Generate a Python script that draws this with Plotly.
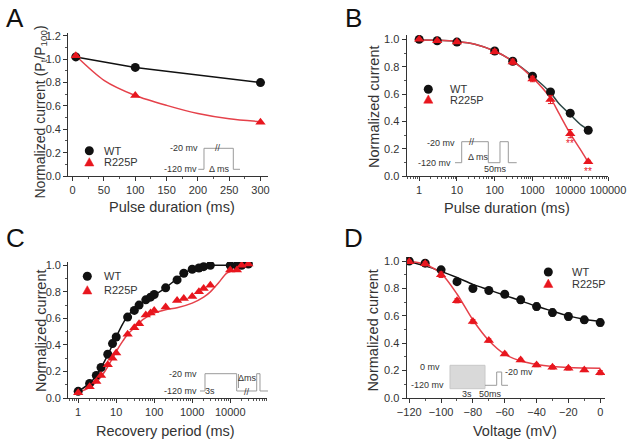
import math
import plotly.graph_objects as go

W, H = 629, 444

# ---------------- Data ----------------
# Panel A
a_x = [5, 100, 300]
a_wt = [1.02, 0.93, 0.80]
a_mut = [1.03, 0.69, 0.46]
a_fit_x = [5, 50, 100, 150, 200, 250, 300]
a_fit_mut = [1.03, 0.82, 0.69, 0.605, 0.535, 0.49, 0.465]

# Panel B
b_x = [1, 3, 10, 100, 300, 1000, 3000, 10000, 30000]
b_wt = [1.0, 0.99, 0.98, 0.915, 0.84, 0.73, 0.615, 0.46, 0.335]
b_wt_err = [0.005, 0.008, 0.01, 0.01, 0.012, 0.015, 0.015, 0.015, 0.012]
b_mut = [1.0, 0.99, 0.98, 0.91, 0.835, 0.71, 0.56, 0.31, 0.105]
b_mut_err = [0.005, 0.008, 0.01, 0.015, 0.02, 0.02, 0.03, 0.03, 0.01]
b_fit_x = [1, 3, 10, 30, 100, 300, 1000, 3000, 5000, 10000, 20000, 30000]
b_fit_wt = [0.995, 0.993, 0.985, 0.965, 0.915, 0.84, 0.73, 0.61, 0.53, 0.45, 0.37, 0.34]
b_fit_mut = [0.995, 0.993, 0.985, 0.965, 0.915, 0.84, 0.72, 0.57, 0.46, 0.31, 0.18, 0.10]

# Panel C
c_x = [1, 2, 3, 4, 6, 8, 10, 20, 30, 40, 60, 80, 100, 200, 400, 600, 1000, 1500,
       2000, 3000, 10000, 15000, 20000, 30000]
c_wt = [0.05, 0.11, 0.17, 0.23, 0.33, 0.41, 0.46, 0.61, 0.66, 0.70, 0.74, 0.76, 0.78,
        0.83, 0.89, 0.94, 0.97, 0.98, 0.99, 1.0, 1.0, 1.0, 1.0, 1.01]
c_mut = [0.04, 0.085, 0.125, 0.17, 0.25, 0.30, 0.34, 0.48, 0.53, 0.56, 0.625, 0.64, 0.66,
         0.685, 0.735, 0.75, 0.765, 0.80, 0.825, 0.85, 0.965, 0.965, 1.0, 1.01]
c_fit_wt_x = [1, 2, 3, 5, 8, 10, 15, 20, 30, 50, 100, 200, 400, 700, 1000, 2000, 3000, 10000, 30000]
c_fit_wt = [0.05, 0.11, 0.17, 0.28, 0.40, 0.46, 0.56, 0.62, 0.67, 0.72, 0.775, 0.83, 0.90,
            0.95, 0.97, 0.99, 1.0, 1.0, 1.0]
c_fit_mut_x = [1, 2, 3, 5, 8, 10, 15, 20, 30, 50, 100, 200, 400, 1000, 2000, 3000, 5000,
               8000, 15000, 30000]
c_fit_mut = [0.04, 0.08, 0.12, 0.20, 0.30, 0.35, 0.43, 0.48, 0.53, 0.59, 0.64, 0.665, 0.68,
             0.715, 0.76, 0.80, 0.87, 0.94, 0.97, 1.0]

# Panel D
d_x = [-120, -110, -100, -90, -80, -70, -60, -50, -40, -30, -20, -10, 0]
d_wt = [1.0, 0.985, 0.936, 0.85, 0.80, 0.785, 0.758, 0.717, 0.668, 0.624, 0.595, 0.571, 0.551]
d_wt_err = [0.01, 0.015, 0.02, 0.02, 0.02, 0.02, 0.02, 0.025, 0.025, 0.025, 0.025, 0.025, 0.025]
d_mut = [0.995, 0.98, 0.90, 0.71, 0.558, 0.42, 0.322, 0.278, 0.241, 0.224, 0.217, 0.205, 0.185]
d_mut_err = [0.01, 0.015, 0.02, 0.015, 0.015, 0.012, 0.012, 0.012, 0.012, 0.012, 0.012, 0.012, 0.015]
d_fit_x = [-120, -110, -100, -90, -80, -70, -60, -50, -40, -30, -20, -10, 0]
d_fit_wt = [0.995, 0.965, 0.925, 0.88, 0.83, 0.79, 0.75, 0.71, 0.67, 0.635, 0.60, 0.575, 0.558]
d_fit_mut = [1.0, 0.975, 0.91, 0.76, 0.57, 0.42, 0.32, 0.27, 0.245, 0.23, 0.222, 0.219, 0.217]

legend_names = ["WT", "R225P"]
log_tickvals = [1, 10, 100, 1000, 10000, 100000]
log_ticktext = ["1", "10", "100", "1000", "10000", "100000"]

# ---------------- Styles ----------------
BLACK = "#111111"
RED = "#e8161e"
RED_LINE = "#e5414a"
FONT = "Liberation Sans, Arial, sans-serif"


def PX(x):
    return x / W


def PY(y):
    return 1 - y / H


fig = go.Figure()


def add_panel(n, x, wt, mut, wt_err=None, mut_err=None, fits=()):
    xa = "x" if n == 1 else f"x{n}"
    ya = "y" if n == 1 else f"y{n}"
    for fx, fy, col in fits:
        fig.add_trace(go.Scatter(x=fx, y=fy, mode="lines", xaxis=xa, yaxis=ya,
                                 line=dict(color=col, width=1.5, shape="spline", smoothing=0.8),
                                 showlegend=False, hoverinfo="skip"))
    fig.add_trace(go.Scatter(
        x=x, y=wt, mode="markers", xaxis=xa, yaxis=ya, name=legend_names[0], showlegend=False,
        marker=dict(symbol="circle", size=9, color=BLACK),
        error_y=dict(type="data", array=wt_err, color=BLACK, thickness=1, width=2.5,
                     visible=wt_err is not None)))
    fig.add_trace(go.Scatter(
        x=x, y=mut, mode="markers", xaxis=xa, yaxis=ya, name=legend_names[1], showlegend=False,
        marker=dict(symbol="triangle-up", size=9, color=RED),
        error_y=dict(type="data", array=mut_err, color=RED, thickness=1, width=2.5,
                     visible=mut_err is not None)))


# Panel A: WT connected by straight line, R225P fitted curve
fig.add_trace(go.Scatter(x=a_x, y=a_wt, mode="lines", xaxis="x", yaxis="y",
                         line=dict(color=BLACK, width=1.5), showlegend=False, hoverinfo="skip"))
add_panel(1, a_x, a_wt, a_mut, fits=[(a_fit_x, a_fit_mut, RED_LINE)])
add_panel(2, b_x, b_wt, b_mut, b_wt_err, b_mut_err,
          fits=[(b_fit_x, b_fit_wt, "#2d4746"), (b_fit_x, b_fit_mut, RED_LINE)])
fig.add_trace(go.Scatter(x=c_fit_wt_x, y=c_fit_wt, mode="lines", xaxis="x3", yaxis="y3",
                         line=dict(color=BLACK, width=1.5, shape="spline", smoothing=0.8),
                         showlegend=False, hoverinfo="skip"))
add_panel(3, c_x, c_wt, c_mut, fits=[(c_fit_mut_x, c_fit_mut, RED_LINE)])
add_panel(4, d_x, d_wt, d_mut, d_wt_err, d_mut_err,
          fits=[(d_fit_x, d_fit_wt, BLACK), (d_fit_x, d_fit_mut, RED_LINE)])


def axis(domain, rng, anchor, typ="linear", dtick=None, tick0=None, fmt=None, minor_dtick=None,
         tickvals=None, ticktext=None):
    d = dict(domain=domain, range=rng, type=typ, anchor=anchor, showline=True,
             linecolor="#333", linewidth=1.3, ticks="outside", ticklen=4, tickwidth=1,
             tickcolor="#333", showgrid=False, zeroline=False, automargin=False,
             tickfont=dict(family=FONT, size=11, color="#333"))
    if dtick is not None:
        d["dtick"] = dtick
    if tick0 is not None:
        d["tick0"] = tick0
    if fmt:
        d["tickformat"] = fmt
    if tickvals is not None:
        d["tickmode"] = "array"
        d["tickvals"] = tickvals
        d["ticktext"] = ticktext
    d["minor"] = dict(ticks="outside", ticklen=2, tickcolor="#555", showgrid=False)
    if minor_dtick is not None:
        d["minor"]["dtick"] = minor_dtick
    return d


lay = dict(width=W, height=H, margin=dict(l=0, r=0, t=0, b=0), template="none",
           paper_bgcolor="white", plot_bgcolor="white", showlegend=False)

# A
lay["xaxis"] = axis([PX(68.3), PX(268)], [-7, 312], "y", dtick=50, tick0=0, minor_dtick=25)
lay["yaxis"] = axis([PY(176), PY(33)], [0, 1.225], "x", dtick=0.2, tick0=0, fmt=".1f", minor_dtick=0.1)
# B
lay["xaxis2"] = axis([PX(406.7), PX(608)], [-0.33, 5.0], "y2", typ="log", minor_dtick="D1",
                     tickvals=log_tickvals, ticktext=log_ticktext)
lay["yaxis2"] = axis([PY(176), PY(35)], [0, 1.032], "x2", dtick=0.2, tick0=0, fmt=".1f", minor_dtick=0.1)
# C
lay["xaxis3"] = axis([PX(68.3), PX(266.7)], [-0.26, 4.96], "y3", typ="log", minor_dtick="D1",
                     tickvals=log_tickvals, ticktext=log_ticktext)
lay["yaxis3"] = axis([PY(398), PY(262)], [0, 1.025], "x3", dtick=0.2, tick0=0, fmt=".1f", minor_dtick=0.1)
# D
lay["xaxis4"] = axis([PX(406.7), PX(605)], [-121.6, 3], "y4", dtick=20, tick0=0, minor_dtick=10)
lay["yaxis4"] = axis([PY(398), PY(257)], [0, 1.03], "x4", dtick=0.2, tick0=0, fmt=".1f", minor_dtick=0.1)

fig.update_layout(**lay)

ann = []
shapes = []


def text(px, py, s, size=10, color="#333", xanchor="center", angle=0, family=FONT):
    ann.append(dict(x=PX(px), y=PY(py), xref="paper", yref="paper", text=s, showarrow=False,
                    xanchor=xanchor, yanchor="middle", textangle=angle,
                    font=dict(family=family, size=size, color=color)))


def path(points, color="#9a9a9a", width=1, fill=None):
    p = "M " + " L ".join(f"{PX(x):.5f},{PY(y):.5f}" for x, y in points)
    if fill:
        p += " Z"
    shapes.append(dict(type="path", path=p, xref="paper", yref="paper",
                       line=dict(color=color, width=width), fillcolor=fill,
                       layer="below" if fill else "above"))


def legend(px, py_wt, py_mut, tx):
    r = 4.5
    shapes.append(dict(type="circle", xref="paper", yref="paper",
                       x0=PX(px - r), x1=PX(px + r), y0=PY(py_wt + r), y1=PY(py_wt - r),
                       fillcolor=BLACK, line=dict(color=BLACK, width=0)))
    t = 4.6
    path([(px - t, py_mut + t * 0.8), (px + t, py_mut + t * 0.8), (px, py_mut - t)],
         color=RED, width=0.5, fill=RED)
    shapes[-1]["layer"] = "above"
    text(tx, py_wt, legend_names[0], size=11, xanchor="left")
    text(tx, py_mut, legend_names[1], size=11, xanchor="left")


# Panel letters
text(15, 18, "A", size=26, color="#111")
text(353, 18, "B", size=26, color="#111")
text(15, 238, "C", size=26, color="#111")
text(353, 238, "D", size=26, color="#111")

# Axis titles
text(171.7, 207, "Pulse duration (ms)", size=14.5)
text(40.5, 112, "Normalized current (P<sub>t</sub>/P<sub>100</sub>)", size=14, angle=-90)
text(506.7, 208.3, "Pulse duration (ms)", size=14.5)
text(373.3, 106.7, "Normalized current", size=14.5, angle=-90)
text(165, 431.3, "Recovery period (ms)", size=14.5)
text(41.7, 330.3, "Normalized current", size=14.5, angle=-90)
text(515, 431.3, "Voltage (mV)", size=14.5)
text(373.3, 330.3, "Normalized current", size=14.5, angle=-90)

# Legends
legend(89.3, 150.7, 162.3, 101.7)
legend(428.3, 89.3, 99.5, 447.7)
legend(87.3, 276.3, 290.3, 101.7)
legend(548.3, 272, 283.7, 570)

# Significance marks in panel B
ann.append(dict(x=math.log10(10000), y=0.235, xref="x2", yref="y2", text="**", showarrow=False,
                font=dict(family=FONT, size=10, color=RED)))
ann.append(dict(x=math.log10(30000), y=0.035, xref="x2", yref="y2", text="**", showarrow=False,
                font=dict(family=FONT, size=10, color=RED)))

# Inset A
path([(198.3, 169.3), (204, 169.3), (204, 148.3), (233.3, 148.3), (233.3, 169.3), (240, 169.3)])
text(200, 148.3, "-20 mv", size=9, xanchor="right")
text(199, 169.3, "-120 mv", size=9, xanchor="right")
text(218.3, 148.3, "//", size=9)
text(219.3, 169.3, "Δ ms", size=9)

# Inset B
path([(455, 162.7), (461.7, 162.7), (461.7, 141.7), (488.3, 141.7), (488.3, 162.7),
      (500, 162.7), (500, 141.7), (508.3, 141.7), (508.3, 162.7), (516.7, 162.7)])
text(456.7, 142.7, "-20 mv", size=9, xanchor="right")
text(453.3, 162.7, "-120 mv", size=9, xanchor="right")
text(472, 141.7, "//", size=9)
text(478.3, 156.7, "Δ ms", size=9)
text(495, 169.3, "50ms", size=9)

# Inset C
path([(200, 391), (205, 391), (205, 373.7), (236.7, 373.7), (236.7, 391), (256.7, 391),
      (256.7, 373.7), (260, 373.7), (260, 391), (268, 391)])
path([(238.5, 374), (238.5, 388)])
text(199.3, 373.7, "-20 mv", size=9, xanchor="right")
text(199.3, 391, "-120 mv", size=9, xanchor="right")
text(210, 391, "3s", size=9)
text(247.5, 378, "Δms", size=9)
text(247, 392, "//", size=9)

# Inset D
path([(450, 365.3), (485, 365.3), (485, 388.7), (450, 388.7)], color="#c8c8c8", fill="#d9d9d9")
path([(485, 385.3), (496.7, 385.3), (496.7, 372), (501.7, 372), (501.7, 385.3), (508, 385.3)])
text(441.7, 367, "0 mv", size=9, xanchor="right")
text(445.7, 385.3, "-120 mv", size=9, xanchor="right")
text(466.7, 393.7, "3s", size=9)
text(490, 393.7, "50ms", size=9)
text(503.3, 372, "-20 mv", size=9, xanchor="left")

fig.update_layout(annotations=ann, shapes=shapes)
fig.write_html("out.html", config={"displayModeBar": False},
               post_script="document.body.style.margin='0px';document.body.style.overflow='hidden';")
